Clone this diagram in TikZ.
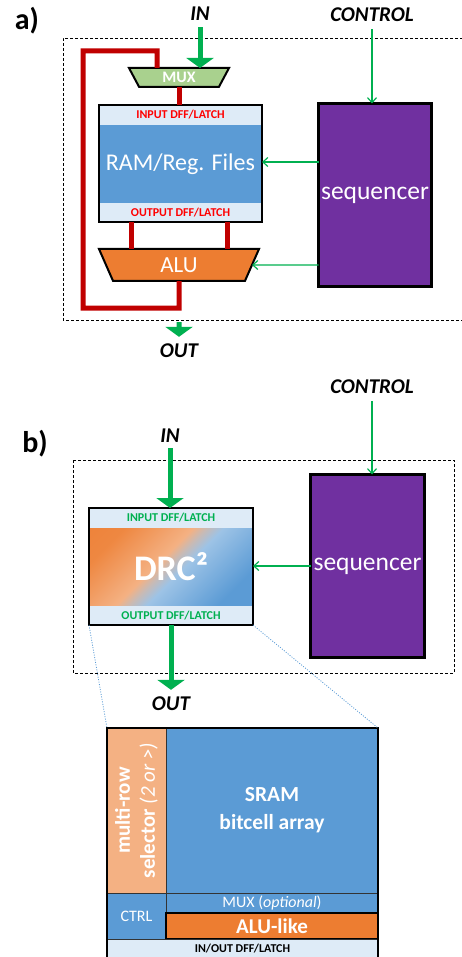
\documentclass[tikz,border=0pt]{standalone}
\usepackage{fontspec}
\setmainfont{Carlito}
\usetikzlibrary{arrows.meta,shapes.geometric}
\definecolor{lband}{HTML}{DEEBF7}
\definecolor{cblue}{HTML}{5B9BD5}
\definecolor{corange}{HTML}{ED7D31}
\definecolor{lorange}{HTML}{F4B183}
\definecolor{cpurple}{HTML}{7030A0}
\definecolor{cgreen}{HTML}{00B050}
\definecolor{dred}{HTML}{C00000}
\definecolor{tred}{HTML}{FF0000}
\definecolor{muxgreen}{HTML}{A9D18E}
\definecolor{lblue}{HTML}{9DC3E6}
\newcommand{\fsz}[2]{\fontsize{#1}{#2}\selectfont}
\pgfdeclareverticalshading{drcshade}{100bp}{color(0bp)=(cblue); color(25bp)=(cblue); color(46bp)=(lblue); color(51bp)=(lblue!50!lorange); color(55bp)=(lorange); color(75bp)=(corange!80!lorange); color(100bp)=(corange)}
\tikzset{
  lbl/.style={font=\fsz{21}{25}\bfseries\itshape, inner sep=0pt},
  panel/.style={font=\fsz{30}{36}\bfseries, inner sep=0pt},
  bigarrow/.style={draw=cgreen, line width=5pt, -{Triangle[width=27pt,length=10pt]}},
  thinarrow/.style={draw=cgreen, line width=1.2pt, -{Straight Barb[length=5pt,width=9pt]}},
  redline/.style={draw=dred, line width=5pt},
  frame/.style={draw, dash pattern=on 3pt off 2pt, line width=0.9pt},
  seqbox/.style={draw, line width=3pt, fill=cpurple, text=white, font=\fsz{25.5}{30}, inner sep=0pt, outer sep=0pt},
  band/.style={fill=lband, inner sep=0pt, outer sep=0pt, font=\fsz{12}{14}\bfseries},
  core/.style={inner sep=0pt, outer sep=0pt, text=white},
  box/.style={draw, line width=2pt, inner sep=0pt, outer sep=0pt},
  trap/.style={trapezium, trapezium stretches body, draw, line width=2pt, inner sep=0pt, outer sep=0pt, text=white},
  cell/.style={draw=black!80, line width=0.8pt, inner sep=0pt, outer sep=0pt, text=white},
  dotblue/.style={draw=cblue, line width=0.8pt, dash pattern=on 1pt off 1.5pt},
}
\begin{document}
\begin{tikzpicture}[x=1pt,y=-1pt]
\useasboundingbox (0,0) rectangle (462,957);
% ---------- panel a ----------
\draw[frame] (463,38) -- (63,38) -- (63,320) -- (463,320);
\node[panel] (pa) at (27,21) {a)};
\node[lbl] (ina) at (200,14) {IN};
\node[lbl] (ctla) at (372,15) {CONTROL};
\node[lbl] (outa) at (179,351) {OUT};
\node[trap, fill=muxgreen, trapezium left angle=134, trapezium right angle=134,
      minimum width=100pt, minimum height=19pt, font=\fsz{16}{18}\bfseries] (mux) at (179,77.5) {MUX};
\node[band, text=tred, minimum width=163pt, minimum height=20pt] (ramin) at (180.5,115) {INPUT DFF/LATCH};
\node[core, fill=cblue, minimum width=163pt, minimum height=78pt, font=\fsz{24}{28}] (ramcore) at (180.5,164) {RAM/Reg. Files};
\node[band, text=tred, minimum width=163pt, minimum height=19pt] (ramout) at (180.5,212.5) {OUTPUT DFF/LATCH};
\node[box, minimum width=163pt, minimum height=117pt] (ram) at (180.5,163.5) {};
\node[trap, fill=corange, trapezium left angle=133.3, trapezium right angle=133.3,
      minimum width=160pt, minimum height=32pt, font=\fsz{23}{26}] (alu) at (179,265) {ALU};
\node[seqbox, minimum width=113pt, minimum height=183pt] (seqa) at (375,195) {sequencer};
\draw[bigarrow] ([yshift=-6pt]ina.south) -- (ina.south |- mux.north);
\draw[bigarrow] ([yshift=-41pt]alu.south) -- ([yshift=7pt]outa.north);
\coordinate (loopbr) at (179,308);
\coordinate (loopbl) at (83,308);
\coordinate (looptl) at (83,51);
\draw[redline] (alu.south) -- (loopbr) -- (loopbl) -- (looptl) -| ([xshift=-22pt]mux.north);
\draw[redline] (mux.south) -- (mux.south |- ram.north);
\draw[redline] ([xshift=-49.5pt]ram.south) -- ([xshift=-49.5pt]ram.south |- alu.north);
\draw[redline] ([xshift=46.5pt]ram.south) -- ([xshift=46.5pt]ram.south |- alu.north);
\draw[thinarrow] ([yshift=-7pt]ctla.south) -- (ctla.south |- seqa.north);
\draw[thinarrow] ([yshift=1.5pt]seqa.west |- ram.east) -- ([yshift=1.5pt]ram.east);
\draw[thinarrow] (seqa.west |- alu.center) -- (alu);
% ---------- panel b ----------
\draw[frame] (73,460) rectangle (454,673);
\node[panel] (pb) at (35,444) {b)};
\node[lbl] (inb) at (170,436) {IN};
\node[lbl] (ctlb) at (372,387) {CONTROL};
\node[lbl] (outb) at (171,704) {OUT};
\node[band, text=cgreen, minimum width=164pt, minimum height=20pt] (drcin) at (171,518) {INPUT DFF/LATCH};
\node[core, shade, shading=drcshade, shading angle=45, minimum width=164pt, minimum height=78pt, font=\fsz{36}{40}\bfseries] (drccore) at (171,567) {DRC²};
\node[band, text=cgreen, minimum width=164pt, minimum height=19pt] (drcout) at (171,615.5) {OUTPUT DFF/LATCH};
\node[box, minimum width=164pt, minimum height=117pt] (drc) at (171,566.5) {};
\node[seqbox, minimum width=114pt, minimum height=183pt] (seqb) at (367.5,566) {sequencer};
\draw[bigarrow] ([yshift=-5pt]inb.south) -- (inb.south |- drc.north);
\draw[bigarrow] (drc.south) -- ([yshift=7pt]outb.north);
\draw[thinarrow] ([yshift=-7pt]ctlb.south) -- (ctlb.south |- seqb.north);
\draw[thinarrow] (seqb.west) -- (seqb.west -| drc.east);
% ---------- detail ----------
\node[cell, fill=lorange, rotate=90, minimum width=165pt, minimum height=59pt, align=center, font=\fsz{21}{25}\bfseries] (sel) at (136.5,810.5) {multi-row\\selector {\mdseries\itshape(2 or >)}};
\node[cell, fill=cblue, minimum width=212pt, minimum height=165pt, align=center, font=\fsz{21.5}{28}\bfseries] (sram) at (272,810.5) {SRAM\\bitcell array};
\node[cell, fill=cblue, minimum width=59pt, minimum height=46pt, font=\fsz{16}{18}] (ctrl) at (136.5,916) {CTRL};
\node[cell, fill=cblue, minimum width=212pt, minimum height=20pt, font=\fsz{16}{18}] (muxopt) at (272,903) {MUX (\textit{optional})};
\node[cell, draw=black, line width=1.2pt, fill=corange, minimum width=212pt, minimum height=26pt, font=\fsz{21}{24}\bfseries] (alulike) at (272,926) {ALU-like};
\node[cell, fill=lband, text=black, minimum width=271pt, minimum height=20pt, font=\fsz{12}{14}\bfseries] (inout) at (242.5,949) {IN/OUT DFF/LATCH};
\draw[line width=2pt] (inout.south west) -- (sel.north east) -- (sram.north east) -- (inout.south east);
\draw[dotblue] (drc.south west) -- (sel.north east);
\draw[dotblue] (drc.south east) -- (sram.north east);
\end{tikzpicture}
\end{document}
